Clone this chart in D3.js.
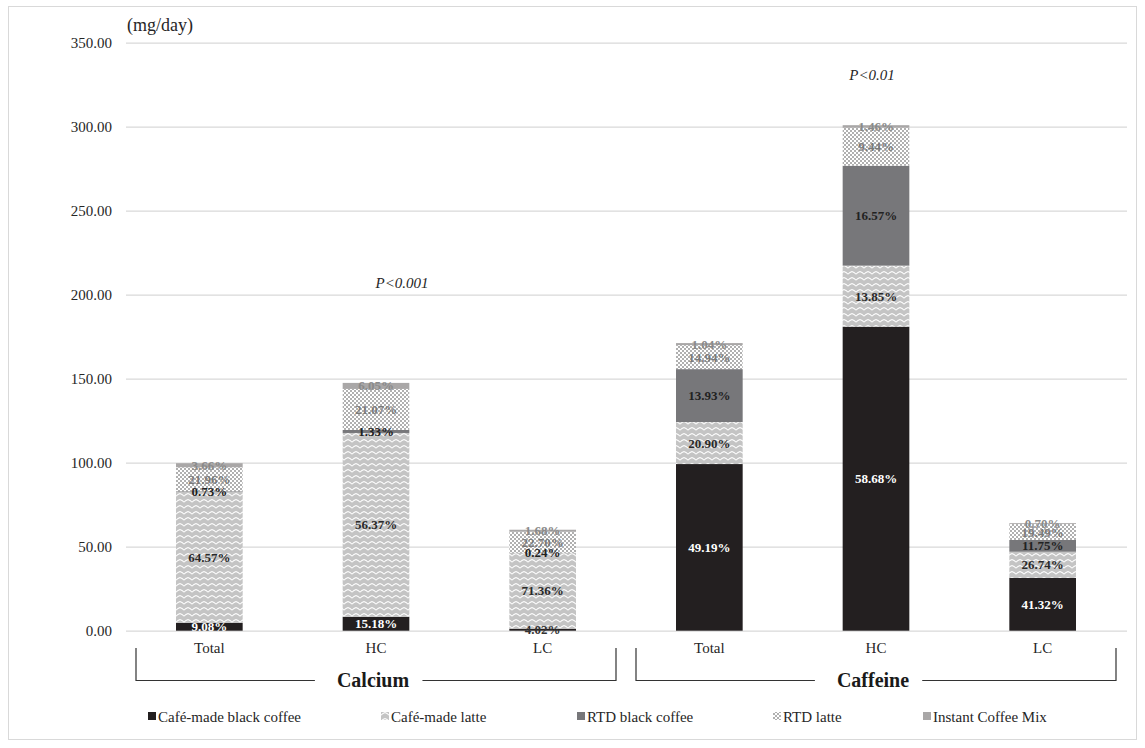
<!DOCTYPE html>
<html>
<head>
<meta charset="utf-8">
<script src="https://cdn.jsdelivr.net/npm/d3@7/dist/d3.min.js"></script>
<style>
  html, body { margin: 0; padding: 0; background: #fff; }
  svg { display: block; font-family: "Liberation Serif", "Times New Roman", serif; }
</style>
</head>
<body>
<svg id="chart" width="1145" height="748"></svg>
<script>
// ---- data -------------------------------------------------------------
const categories = ["Total", "HC", "LC", "Total", "HC", "LC"];
const groupNames = ["Calcium", "Caffeine"];
const groupOfCategory = [0, 0, 0, 1, 1, 1];
const seriesNames = ["Café-made black coffee", "Café-made latte", "RTD black coffee", "RTD latte", "Instant Coffee Mix"];

// daily intake (mg/day) contributed by each beverage type
const cafeBlack  = [4.6, 8.2, 1.2, 99.2, 181.0, 31.5];
const cafeLatte  = [78.0, 109.5, 45.0, 25.0, 36.3, 15.5];
const rtdBlack   = [0.4, 1.8, 0.2, 31.5, 59.5, 7.0];
const rtdLatte   = [14.3, 24.4, 12.5, 14.3, 22.6, 9.5];
const instantMix = [2.4, 3.6, 1.2, 1.2, 1.5, 0.5];

// share labels printed on each segment
const cafeBlackPct  = ["9.08%", "15.18%", "4.02%", "49.19%", "58.68%", "41.32%"];
const cafeLattePct  = ["64.57%", "56.37%", "71.36%", "20.90%", "13.85%", "26.74%"];
const rtdBlackPct   = ["0.73%", "1.33%", "0.24%", "13.93%", "16.57%", "11.75%"];
const rtdLattePct   = ["21.96%", "21.07%", "22.70%", "14.94%", "9.44%", "19.49%"];
const instantMixPct = ["3.66%", "6.05%", "1.68%", "1.04%", "1.46%", "0.70%"];

const yTicks = [0, 50, 100, 150, 200, 250, 300, 350];
const pNotes = [{ group: 0, text: "P<0.001" }, { group: 1, text: "P<0.01" }];

// ---- layout -----------------------------------------------------------
const seriesValues = [cafeBlack, cafeLatte, rtdBlack, rtdLatte, instantMix];
const seriesLabels = [cafeBlackPct, cafeLattePct, rtdBlackPct, rtdLattePct, instantMixPct];
const fills = ["#231f20", "url(#wave)", "#77777a", "url(#check)", "#a9a7a7"];
const labelColors = ["#ffffff", "#2a2a2a", "#222222", "#7a7a7a", "#8a8a8a"];

const svg = d3.select("#chart");
const W = 1145, H = 748;
const plotLeft = 126, plotRight = 1127;

// patterns
const defs = svg.append("defs");
const wave = defs.append("pattern").attr("id", "wave").attr("patternUnits", "userSpaceOnUse")
  .attr("width", 8).attr("height", 6);
wave.append("rect").attr("width", 8).attr("height", 6).attr("fill", "#c4c4c4");
wave.append("path").attr("d", "M0,4.2 L2,2.4 L4,1.6 L6,2.4 L8,4.2")
  .attr("fill", "none").attr("stroke", "#ffffff").attr("stroke-width", 1.1);

const check = defs.append("pattern").attr("id", "check").attr("patternUnits", "userSpaceOnUse")
  .attr("width", 4).attr("height", 4);
check.append("rect").attr("width", 4).attr("height", 4).attr("fill", "#ffffff");
check.append("rect").attr("x", 0).attr("y", 0).attr("width", 2).attr("height", 2).attr("fill", "#b0b0b0");
check.append("rect").attr("x", 2).attr("y", 2).attr("width", 2).attr("height", 2).attr("fill", "#b0b0b0");

// outer frame
svg.append("rect").attr("x", 8.5).attr("y", 6.5).attr("width", W - 17).attr("height", H - 15)
  .attr("fill", "none").attr("stroke", "#d9d9d9");

// scales
const y = d3.scaleLinear().domain([0, 350]).range([630.7, 42.7]);
const x = d3.scaleBand().domain(d3.range(categories.length))
  .range([plotLeft, plotRight - 1]).paddingInner(0.6).paddingOuter(0.3);

// gridlines + y axis labels
const yAxis = d3.axisLeft(y).tickValues(yTicks).tickFormat(d3.format(".2f"))
  .tickSize(-(plotRight - plotLeft)).tickPadding(14);
const gy = svg.append("g").attr("transform", `translate(${plotLeft},0)`).call(yAxis);
gy.select(".domain").remove();
gy.selectAll(".tick line").attr("stroke", "#d9d9d9").attr("stroke-width", 1.3);
gy.selectAll(".tick text").attr("fill", "#262626").attr("font-size", 15)
  .attr("font-family", "Liberation Serif, serif");

svg.append("text").attr("x", 127).attr("y", 31).attr("font-size", 18).attr("fill", "#262626")
  .text("(mg/day)");

// stacked bars
const rows = categories.map((c, i) => {
  const r = { idx: i };
  seriesNames.forEach((s, k) => { r[s] = seriesValues[k][i]; });
  return r;
});
const stacked = d3.stack().keys(seriesNames)(rows);

const layers = svg.append("g").selectAll("g").data(stacked).join("g")
  .attr("fill", (d, k) => fills[k]);
layers.selectAll("rect").data(d => d).join("rect")
  .attr("x", d => x(d.data.idx))
  .attr("width", x.bandwidth())
  .attr("y", d => y(d[1]))
  .attr("height", d => y(d[0]) - y(d[1]));

// segment labels
const labelLayer = svg.append("g").attr("font-size", 13).attr("font-weight", "bold")
  .attr("text-anchor", "middle");
stacked.forEach((layer, k) => {
  layer.forEach((d, i) => {
    const segH = y(d[0]) - y(d[1]);
    let color = labelColors[k];
    if (k === 0 && segH < 5) color = "#333333";
    labelLayer.append("text")
      .attr("x", x(i) + x.bandwidth() / 2)
      .attr("y", (y(d[0]) + y(d[1])) / 2)
      .attr("dy", "0.35em")
      .attr("fill", color)
      .text(seriesLabels[k][i]);
  });
});

// category labels
svg.append("g").selectAll("text").data(categories).join("text")
  .attr("x", (d, i) => x(i) + x.bandwidth() / 2)
  .attr("y", 653)
  .attr("text-anchor", "middle").attr("font-size", 15).attr("fill", "#262626")
  .text(d => d);

// group brackets
const step = x.step();
groupNames.forEach((g, gi) => {
  const idxs = d3.range(categories.length).filter(i => groupOfCategory[i] === gi);
  const x0 = x(idxs[0]) - (step - x.bandwidth()) / 2 + 10;
  const x1 = x(idxs[idxs.length - 1]) + x.bandwidth() + (step - x.bandwidth()) / 2 - 10;
  const cx = (x0 + x1) / 2;
  const gg = svg.append("g").attr("stroke", "#333").attr("stroke-width", 1.2).attr("fill", "none");
  const label = svg.append("text").attr("x", cx - 3).attr("y", 687).attr("text-anchor", "middle")
    .attr("font-size", 20).attr("font-weight", "bold").attr("fill", "#1a1a1a").text(g);
  const bb = label.node().getBBox();
  const ly = 680.5;
  gg.append("path").attr("d", `M${x0},648 V${ly} H${bb.x - 22}`);
  gg.append("path").attr("d", `M${bb.x + bb.width + 13},${ly} H${x1} V648`);
});

// significance notes
const noteY = [288, 80];
const noteX = [402, 872];
pNotes.forEach((n, i) => {
  svg.append("text").attr("x", noteX[i]).attr("y", noteY[i]).attr("text-anchor", "middle")
    .attr("font-size", 15).attr("font-style", "italic").attr("fill", "#262626").text(n.text);
});

// legend
const legendX = [148, 381, 577, 773, 923];
const legend = svg.append("g");
seriesNames.forEach((s, k) => {
  const g = legend.append("g").attr("transform", `translate(${legendX[k]},717)`);
  g.append("rect").attr("x", 0).attr("y", -5).attr("width", 8).attr("height", 8).attr("fill", fills[k]);
  g.append("text").attr("x", 10).attr("y", 4.5).attr("font-size", 15).attr("fill", "#262626").text(s);
});
</script>
</body>
</html>
